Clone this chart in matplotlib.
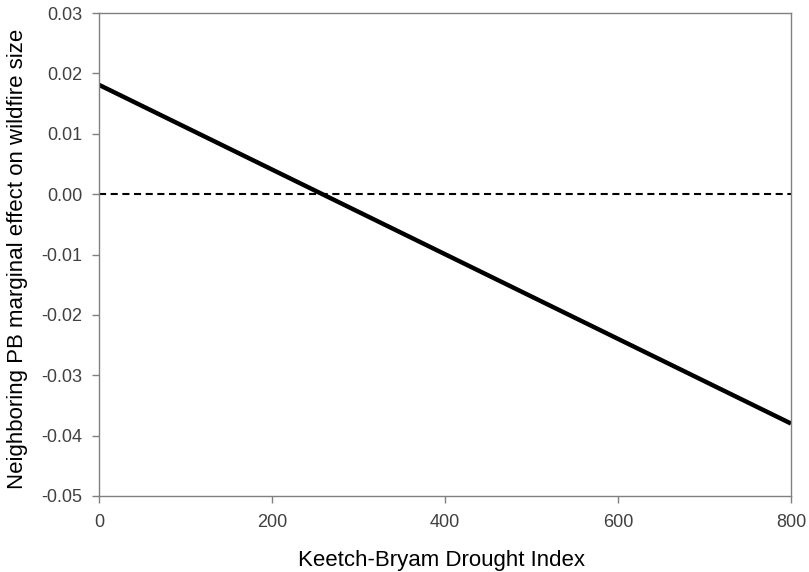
import matplotlib
matplotlib.use("Agg")
import matplotlib.pyplot as plt

plt.rcParams['font.family'] = ['Liberation Sans', 'DejaVu Sans']

kbdi = [0, 800]
effect = [0.0181, -0.0380]
zero_x = [0, 800]
zero_y = [0.0, 0.0]
xticks = [0, 200, 400, 600, 800]
yticks = [-0.05, -0.04, -0.03, -0.02, -0.01, 0.00, 0.01, 0.02, 0.03]

fig = plt.figure(figsize=(8.09, 5.72), dpi=100)
ax = fig.add_axes([99/809, 1-496/572, (791-99)/809, (496-13)/572])

ax.plot(zero_x, zero_y, color='black', lw=1.5, linestyle=(0, (3.4, 2.2)))
ax.plot(kbdi, effect, color='black', lw=3.2, solid_capstyle='butt')

ax.set_xlim(0, 800)
ax.set_ylim(-0.05, 0.03)
ax.set_xticks(xticks)
ax.set_yticks(yticks)
ax.set_xticklabels([str(v) for v in xticks])
ax.set_yticklabels([f"{v:.2f}" for v in yticks])
for s in ax.spines.values():
    s.set_color('#808080')
    s.set_linewidth(1.0)
ax.tick_params(direction='out', length=5, width=1, color='#808080',
               labelsize=13, labelcolor='#404040')
ax.tick_params(axis='y', pad=7)
ax.tick_params(axis='x', pad=8)

fig.text(442/809, 1-566/572, 'Keetch-Bryam Drought Index', fontsize=16,
         color='black', ha='center', va='baseline')
fig.text(23/809, 1-259/572, 'Neighboring PB marginal effect on wildfire size',
         fontsize=16, color='black', rotation=90, rotation_mode='anchor',
         ha='center', va='baseline')

fig.savefig('out.png', dpi=100)
